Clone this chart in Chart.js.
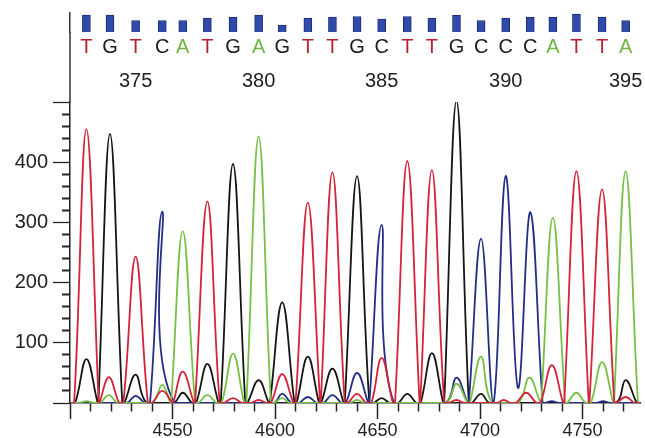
<!DOCTYPE html>
<html>
<head>
<meta charset="utf-8">
<script src="https://cdn.jsdelivr.net/npm/chart.js@4.4.1/dist/chart.umd.min.js"></script>
<style>
  html, body { margin: 0; padding: 0; background: #fff; }
  #wrap { position: relative; width: 645px; height: 438px; }
  #main, #calls { position: absolute; left: 0; top: 0; }
</style>
</head>
<body>
<div id="wrap">
  <canvas id="main" width="645" height="438"></canvas>
  <canvas id="calls" width="645" height="102"></canvas>
</div>
<script>
// base calls
const bases = ['T','G','T','C','A','T','G','A','G','T','T','G','C','T','T','G','C','C','C','A','T','T','A'];
const basePos = [4508, 4519.5, 4532, 4545, 4555, 4567, 4579.5, 4592, 4603.5, 4616, 4628, 4640,
                 4652, 4664.5, 4676.5, 4688.5, 4700.5, 4712.5, 4724.5, 4735.5, 4747, 4759.5, 4771];
const quality = [34, 34, 23, 23, 23, 28, 30, 34, 14, 28, 30, 31, 26, 31, 28, 34, 23, 28, 30, 30, 36, 30, 23];
const firstBaseNo = 373;
const numberLabels = [375, 380, 385, 390, 395];

// trace vertices [scan point, signal] per dye
const traceT = [[4500,0],[4502,0],[4508,455],[4514,0],[4514.3,0],[4519,43],[4524,0],[4526,0],[4532,243],[4538,0],
  [4540,0],[4545,20],[4550,0],[4550.3,0],[4555,52],[4560.5,0],[4561,0],[4567,335],[4573,0],[4575,0],[4579.5,8],[4584,0],
  [4588,0],[4592,5],[4596,0],[4598,0],[4603.5,48],[4609,0],[4610,0],[4616,333],[4622,0],[4622.3,0],[4628,383],[4634,0],
  [4635.5,0],[4640,15],[4644.5,0],[4647,0],[4652,75],[4657.5,0],[4658.5,0],[4664.5,402],[4670.5,0],[4670.8,0],[4676.5,387],
  [4682.5,0],[4684.5,0],[4688.5,5],[4692.5,0],[4708,0],[4711.5,5],[4715,0],[4717.5,0],[4722.5,17],[4727.5,0],[4729.5,0],
  [4735,63],[4740.5,0],[4741,0],[4747,385],[4753,0],[4753.3,0],[4759.5,355],[4765.5,0],[4766.5,0],[4771,10],[4775.5,0],[4778,0]];
const traceG = [[4500,0],[4502.5,0],[4508,73],[4513.5,0],[4513.8,0],[4519.5,447],[4525.5,0],[4526.5,0],[4532,47],[4537.5,0],
  [4550.5,0],[4555,17],[4559.5,0],[4561.5,0],[4567,65],[4572.5,0],[4573.5,0],[4579.5,397],[4585.5,0],[4586.5,0],[4592,38],
  [4597,0],[4597.5,0],[4603.5,167],[4609.5,0],[4610.5,0],[4616,77],[4621.5,0],[4622.5,0],[4628,57],[4633.5,0],[4634,0],
  [4640,377],[4646,0],[4648,0],[4652,8],[4656,0],[4660,0],[4664.5,15],[4669,0],[4671,0],[4676.5,83],[4682,0],[4682.5,0],
  [4688.5,502],[4694.5,0],[4696,0],[4700.5,15],[4705,0],[4765.5,0],[4771,38],[4776.5,0],[4778,0]];
const traceC = [[4500,0],[4527.5,0],[4532,12],[4536.5,0],[4539,0],[4545,318],[4551,0],[4599,0],[4603.5,15],[4608,0],
  [4611.5,0],[4616,10],[4620.5,0],[4623.5,0],[4628,13],[4632.5,0],[4634.5,0],[4640,50],[4645.5,0],[4646,0],[4652,296],
  [4658,0],[4683,0],[4688.5,42],[4694,0],[4694.5,0],[4700.5,273],[4706.5,0],[4712.5,377],[4718.5,25],[4724.5,317],
  [4730.5,0],[4731.5,0],[4735,3],[4738.5,0],[4756.5,0],[4760,3],[4763.5,0],[4778,0]];
const traceA = [[4500,0],[4504,0],[4508,3],[4512,0],[4514.5,0],[4519,13],[4523.5,0],[4540,0],[4545,30],[4549,0],
  [4549.3,0],[4555,285],[4561,0],[4562.5,0],[4567,13],[4571.5,0],[4574,0],[4579.5,82],[4585,0],[4586,0],[4592,443],
  [4598,0],[4599.5,0],[4603.5,8],[4607.5,0],[4636,0],[4640,5],[4644,0],[4683,0],[4688.5,32],[4694,0],[4695,0],
  [4700.5,77],[4706,0],[4718.5,0],[4724,42],[4729.5,0],[4729.8,0],[4735.5,308],[4741.5,0],[4742.5,0],[4747,17],
  [4751.5,0],[4754,0],[4759.5,68],[4765,0],[4765.3,0],[4771,385],[4777,0],[4778,0]];

const FONT = "'Liberation Sans', Arial, Helvetica, sans-serif";
const dyeColor = { T: '#d3243a', G: '#151515', C: '#252e86', A: '#76c045' };
const letterColor = { T: '#b8202e', G: '#1c1c1c', C: '#1c1c1c', A: '#6fb543' };
const ink = '#222';

function trace(label, pts) {
    return {
        label: label,
        data: pts.map(p => ({ x: p[0], y: p[1] })),
        borderColor: dyeColor[label],
        borderWidth: 1.8,
        pointRadius: 0,
        tension: 0.4,
        fill: false
    };
}

new Chart(document.getElementById('main'), {
    type: 'line',
    data: {
        datasets: [trace('T', traceT), trace('A', traceA), trace('C', traceC), trace('G', traceG)]
    },
    options: {
        responsive: false,
        animation: false,
        layout: { padding: { top: 102, right: 5, left: 0, bottom: 0 } },
        plugins: { legend: { display: false }, tooltip: { enabled: false } },
        scales: {
            x: {
                type: 'linear',
                min: 4500,
                max: 4778,
                bounds: 'data',
                afterBuildTicks: s => { s.ticks = s.ticks.filter(t => t.value % 10 === 0); },
                afterFit: s => { s.height = 35; },
                border: { color: ink, width: 1.5 },
                grid: {
                    drawOnChartArea: false,
                    tickLength: 16,
                    tickColor: ink,
                    tickWidth: 1.5,
                    tickBorderDash: c => c.tick && c.tick.value % 50 === 0 ? [] : [8, 30]
                },
                ticks: {
                    stepSize: 10,
                    includeBounds: false,
                    autoSkip: false,
                    maxRotation: 0,
                    minRotation: 0,
                    padding: 1,
                    color: ink,
                    font: { size: 18, family: FONT },
                    callback: v => (v % 50 === 0 && v > 4500) ? v : ''
                }
            },
            y: {
                min: 0,
                max: 500,
                afterFit: s => { s.width = 70; },
                border: { color: ink, width: 1.5 },
                grid: {
                    drawOnChartArea: false,
                    tickLength: 17,
                    tickColor: ink,
                    tickWidth: c => c.tick && c.tick.value % 100 === 0 ? 1.3 : 2,
                    tickBorderDash: c => c.tick && c.tick.value % 100 === 0 ? [] : [8, 9],
                    tickBorderDashOffset: c => c.tick && c.tick.value % 100 === 0 ? 0 : 8
                },
                ticks: {
                    stepSize: 20,
                    autoSkip: false,
                    padding: 5,
                    color: ink,
                    font: { size: 20, family: FONT },
                    callback: v => (v % 100 === 0 && v > 0 && v < 500) ? v : ''
                }
            }
        }
    }
});

// the axis line keeps going up past the letters and numbers
const axisStem = {
    id: 'axisStem',
    afterDraw(chart) {
        const { ctx, chartArea } = chart;
        ctx.save();
        ctx.strokeStyle = '#333';
        ctx.lineWidth = 1.5;
        ctx.beginPath();
        ctx.moveTo(chartArea.left, chartArea.bottom);
        ctx.lineTo(chartArea.left, chart.height);
        ctx.stroke();
        ctx.restore();
    }
};

new Chart(document.getElementById('calls'), {
    type: 'bar',
    data: {
        datasets: [{
            data: basePos.map((x, i) => ({ x: x, y: quality[i] })),
            backgroundColor: '#2f4aa8',
            borderColor: '#1b2b78',
            borderWidth: 1,
            barThickness: 8,
            xAxisID: 'x',
            yAxisID: 'y'
        }]
    },
    options: {
        responsive: false,
        animation: false,
        layout: { padding: { top: 13, right: 5, left: 0, bottom: 0 } },
        plugins: { legend: { display: false }, tooltip: { enabled: false } },
        scales: {
            x: {
                type: 'linear',
                position: 'bottom',
                weight: 0,
                min: 4500,
                max: 4778,
                bounds: 'data',
                offset: false,
                afterBuildTicks: s => { s.ticks = basePos.map(v => ({ value: v })); },
                afterFit: s => { s.height = 30; },
                grid: { display: false, offset: false },
                border: { display: false },
                ticks: {
                    autoSkip: false,
                    maxRotation: 0,
                    minRotation: 0,
                    padding: -5,
                    font: { size: 20, family: FONT },
                    color: c => letterColor[bases[c.index]],
                    callback: (v, i) => bases[i]
                }
            },
            xn: {
                type: 'linear',
                position: 'bottom',
                weight: 1,
                min: 4500,
                max: 4778,
                bounds: 'data',
                offset: false,
                afterBuildTicks: s => { s.ticks = numberLabels.map(n => ({ value: basePos[n - firstBaseNo] })); },
                afterFit: s => { s.height = 40; },
                grid: { display: false, offset: false },
                border: { display: false },
                ticks: {
                    autoSkip: false,
                    maxRotation: 0,
                    minRotation: 0,
                    padding: -1,
                    color: ink,
                    font: { size: 20, family: FONT },
                    callback: (v, i) => numberLabels[i]
                }
            },
            y: {
                min: 0,
                max: 38,
                afterFit: s => { s.width = 70; },
                ticks: { display: false },
                grid: { display: false },
                border: { color: '#333', width: 1.5 }
            }
        }
    },
    plugins: [axisStem]
});
</script>
</body>
</html>
